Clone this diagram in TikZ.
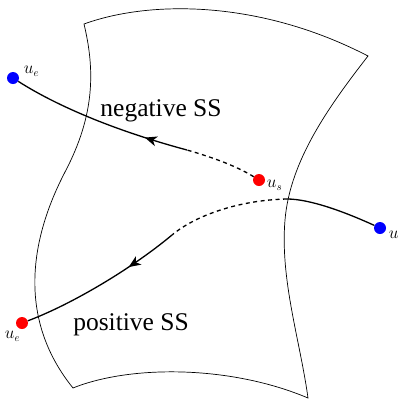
\documentclass[tikz,border=0pt]{standalone}
\usepackage{fontspec}
\setmainfont{Liberation Serif}
\usepackage{tikz}
\usetikzlibrary{positioning, arrows.meta, decorations.markings}

\begin{document}
\begin{tikzpicture}[
        x=1pt, y=-1pt,
        sheet/.style={draw, line width=0.7pt, line join=miter},
        orbit/.style={line width=1.3pt},
        hidden/.style={orbit, dash pattern=on 4pt off 3.5pt},
        dot/.style={circle, inner sep=0pt, minimum size=12pt},
        lbl/.style={inner sep=0pt, font=\fontsize{16}{16}\selectfont},
        sslabel/.style={anchor=base, inner sep=0pt, font=\fontsize{25.5}{30}\selectfont},
        tipat/.style={postaction={decorate}, decoration={markings,
            mark=at position #1 with {\arrow{Stealth[length=12pt, width=10pt, inset=3.5pt]}}}},
    ]
    \useasboundingbox (0,0) rectangle (398,402);
    % the surface
    \draw[sheet] (84,24) .. controls (150,0) and (260,0) .. (368,56)
        .. controls (330,105) and (290,160) .. (285,220)
        .. controls (280,280) and (300,340) .. (308,398)
        .. controls (230,365) and (130,365) .. (73,388)
        .. controls (10,310) and (38,224) .. (65,172)
        .. controls (95,115) and (95,70) .. cycle;
    % end points
    \node[dot, fill=blue] (ue1) at (13,78) {};
    \node[dot, fill=red] (us1) at (259,180) {};
    \node[dot, fill=blue] (us2) at (380,228) {};
    \node[dot, fill=red] (ue2) at (22,323) {};
    \node[lbl, right=4.5pt of ue1, yshift=6.5pt] (ue1l) {$u_e$};
    \node[lbl, right=1.5pt of us1, yshift=-5pt] (us1l) {$u_s$};
    \node[lbl, right=2.5pt of us2, yshift=-8.5pt] (us2l) {$u_s$};
    \node[lbl, left=-4.5pt of ue2, yshift=-13.5pt] (ue2l) {$u_e$};
    \coordinate (negmid) at (187,150);
    \coordinate (posmid) at (172,235);
    \coordinate (cross) at (287,199);
    % negative side
    \draw[hidden] (us1) .. controls (238,167) and (215,158) .. (negmid);
    \draw[orbit, tipat=0.24] (negmid) .. controls (120,132) and (60,108) .. (ue1);
    % positive side
    \draw[orbit] (us2) .. controls (345,212) and (310,199) .. (cross);
    \draw[hidden] (cross) .. controls (240,200) and (196,215) .. (posmid);
    \draw[orbit, tipat=0.32] (posmid) .. controls (130,270) and (70,305) .. (ue2);
    \node[sslabel] (neg) at (161,116) {negative SS};
    \node[sslabel] (pos) at (131,330) {positive SS};
\end{tikzpicture}
\end{document}
